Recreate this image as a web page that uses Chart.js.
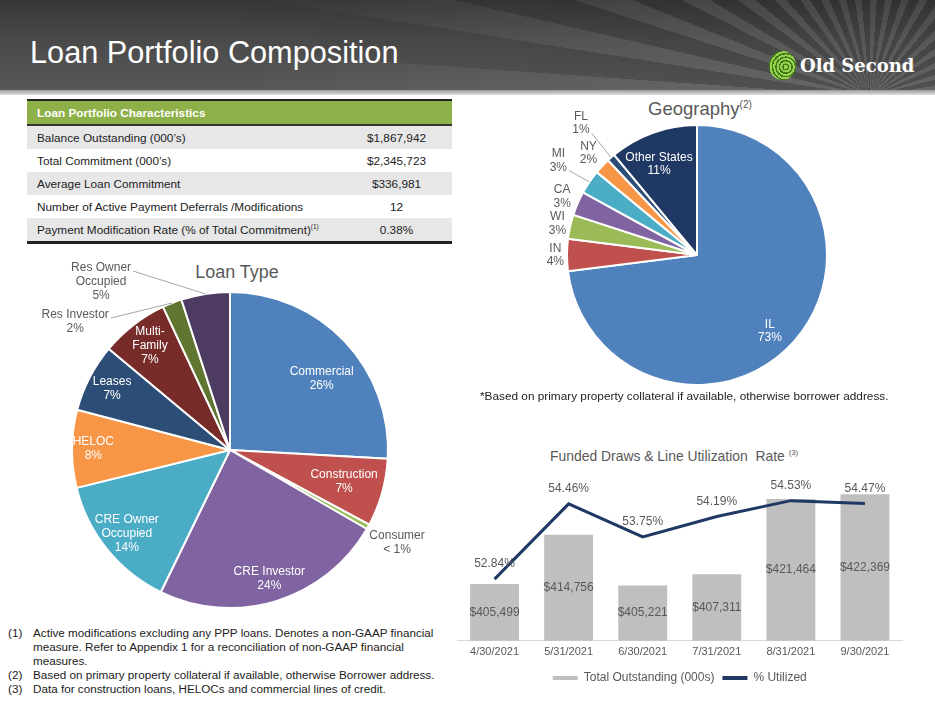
<!DOCTYPE html>
<html>
<head>
<meta charset="utf-8">
<script src="https://cdn.jsdelivr.net/npm/chart.js@4.4.0/dist/chart.umd.min.js"></script>
<style>
  body { margin: 0; width: 935px; height: 701px; overflow: hidden; background: #fff; position: relative;
         font-family: 'Liberation Sans', Arial, sans-serif; color: #222; }
  #header { position: absolute; left: 0; top: 0; width: 935px; height: 90px;
    background: linear-gradient(#363636 0%, #4a4a4a 45%, #585858 100%); }
  #rays { position: absolute; left: 0; top: 0; width: 935px; height: 90px;
    background: repeating-conic-gradient(from -90deg at 870px 96px, rgba(255,255,255,0.08) 0deg 4deg, rgba(0,0,0,0.08) 4deg 9deg);
    -webkit-mask-image: linear-gradient(to right, transparent 25%, #000 75%);
    mask-image: linear-gradient(to right, transparent 25%, #000 75%); }
  #header-strip { position: absolute; left: 0; top: 90px; width: 935px; height: 5px;
    background: linear-gradient(#9a9a9a, #e0e0e0); }
  #title { position: absolute; left: 30px; top: 37px; font-size: 30.7px; line-height: 31px; color: #fff; }
  #logo-icon { position: absolute; left: 769px; top: 51px; width: 27px; height: 29px; border-radius: 50%;
    background: repeating-radial-gradient(circle at 62% 55%, #9ad14a 0 2px, #3f7a1c 2px 3.5px); }
  #logo-text { position: absolute; left: 800px; top: 55px; font-family: 'DejaVu Serif', serif; font-weight: bold;
    font-size: 18px; line-height: 22px; color: #fff; }
  #tbl { position: absolute; left: 27px; top: 99px; width: 425px; border-collapse: collapse; font-size: 11.8px;
    border-top: 2px solid #222; border-bottom: 3px solid #222; }
  #tbl th { background: #8db048; color: #fff; text-align: left; padding: 0 0 0 10px; height: 23px;
    font-weight: bold; border-bottom: 2px solid #333; }
  #tbl td { height: 23px; padding: 0; }
  #tbl td:first-child { padding-left: 10px; }
  #tbl td:last-child { text-align: center; width: 111px; }
  #tbl tbody tr:nth-child(odd) td { background: #e7e7e7; }
  sup { font-size: 0.55em; }
  .ctitle { position: absolute; color: #595959; white-space: nowrap; transform: translateX(-50%); }
  canvas { position: absolute; }
  #notes { position: absolute; left: 8px; top: 626px; font-size: 11.7px; line-height: 14px; }
  #notes div { display: flex; }
  #notes span { width: 25px; flex: none; }
  #geo-note { position: absolute; left: 480px; top: 389px; font-size: 11.8px; line-height: 14px; }
</style>
</head>
<body>
<div id="header"></div>
<div id="rays"></div>
<div id="header-strip"></div>
<div id="title">Loan Portfolio Composition</div>
<div id="logo-icon"></div>
<div id="logo-text">Old Second</div>

<table id="tbl">
  <thead><tr><th colspan="2">Loan Portfolio Characteristics</th></tr></thead>
  <tbody id="tblBody"></tbody>
</table>

<div class="ctitle" style="left:237px; top:262px; font-size:18px;">Loan Type</div>
<div class="ctitle" style="left:700px; top:98px; font-size:18.5px;">Geography<sup>(2)</sup></div>
<div class="ctitle" style="left:674px; top:448px; font-size:13.9px;">Funded Draws &amp; Line Utilization&nbsp; Rate <sup>(3)</sup></div>

<canvas id="loanChart" width="460" height="370" style="left:0; top:250px;"></canvas>
<canvas id="geoChart" width="470" height="290" style="left:465px; top:100px;"></canvas>
<canvas id="drawChart" width="455" height="232" style="left:455px; top:462px;"></canvas>

<div id="geo-note">*Based on primary property collateral if available, otherwise borrower address.</div>

<div id="notes">
  <div><span>(1)</span><p style="margin:0">Active modifications excluding any PPP loans. Denotes a non-GAAP financial<br>measure. Refer to Appendix 1 for a reconciliation of non-GAAP financial<br>measures.</p></div>
  <div><span>(2)</span>Based on primary property collateral if available, otherwise Borrower address.</div>
  <div><span>(3)</span>Data for construction loans, HELOCs and commercial lines of credit.</div>
</div>

<script>
// Table rows
const tableItems = ['Balance Outstanding (000\u2019s)', 'Total Commitment (000\u2019s)', 'Average Loan Commitment',
  'Number of Active Payment Deferrals /Modifications', 'Payment Modification Rate (% of Total Commitment)'];
const tableValues = ['$1,867,942', '$2,345,723', '$336,981', '12', '0.38%'];

// Loan type pie
const loanTypes = ['Commercial', 'Construction', 'Consumer', 'CRE Investor', 'CRE Owner\nOccupied', 'HELOC',
  'Leases', 'Multi-\nFamily', 'Res Investor', 'Res Owner\nOccupied'];
const loanShares = [26, 7, 0.5, 24, 14, 8, 7, 7, 2, 5];
const loanShareLabels = ['26%', '7%', '< 1%', '24%', '14%', '8%', '7%', '7%', '2%', '5%'];

// Geography pie
const states = ['IL', 'IN', 'WI', 'CA', 'MI', 'NY', 'FL', 'Other States'];
const stateShares = [73, 4, 3, 3, 3, 2, 1, 11];

// Funded draws
const months = ['4/30/2021', '5/31/2021', '6/30/2021', '7/31/2021', '8/31/2021', '9/30/2021'];
const totalOutstanding = [405499, 414756, 405221, 407311, 421464, 422369];
const pctUtilized = [52.84, 54.46, 53.75, 54.19, 54.53, 54.47];

// Fill the table
const tblBody = document.getElementById('tblBody');
tableItems.forEach((item, i) => {
  const row = document.createElement('tr');
  const nameCell = document.createElement('td');
  const valueCell = document.createElement('td');
  nameCell.textContent = item;
  if (i === tableItems.length - 1) {
    const s = document.createElement('sup');
    s.textContent = '(1)';
    nameCell.appendChild(s);
  }
  valueCell.textContent = tableValues[i];
  row.appendChild(nameCell);
  row.appendChild(valueCell);
  tblBody.appendChild(row);
});

Chart.defaults.font.family = '"Liberation Sans", Arial, sans-serif';
Chart.defaults.color = '#595959';

const WHITE = '#ffffff', GRAY = '#595959';

// Builds a plugin that writes the text for each slice
// (rad = distance from centre in radii, at = fixed offset in radii)
function makeSliceLabels(lines, styles, lineHeight) {
  return {
    id: 'sliceLabels',
    afterDatasetsDraw(chart) {
      const ctx = chart.ctx;
      const meta = chart.getDatasetMeta(0);
      ctx.save();
      ctx.font = '12px "Liberation Sans", Arial, sans-serif';
      ctx.textAlign = 'center';
      ctx.textBaseline = 'middle';
      meta.data.forEach((arc, i) => {
        const st = styles[i];
        const cx = arc.x, cy = arc.y, R = arc.outerRadius;
        const mid = (arc.startAngle + arc.endAngle) / 2;
        let lx, ly;
        if (st.at) {
          lx = cx + st.at[0] * R;
          ly = cy + st.at[1] * R;
        } else {
          lx = cx + Math.cos(mid) * st.rad * R;
          ly = cy + Math.sin(mid) * st.rad * R;
        }
        const txt = lines[i];
        const top = ly - (txt.length - 1) * lineHeight / 2;
        if (st.leader) {
          const k = st.leader === 'first' ? 0 : txt.length - 1;
          const w = ctx.measureText(txt[k]).width;
          ctx.strokeStyle = '#a6a6a6';
          ctx.lineWidth = 1;
          ctx.beginPath();
          ctx.moveTo(lx + w / 2 + 2, top + k * lineHeight + 3);
          ctx.lineTo(cx + Math.cos(mid) * R, cy + Math.sin(mid) * R);
          ctx.stroke();
        }
        ctx.fillStyle = st.color;
        txt.forEach((t, j) => ctx.fillText(t, lx, top + j * lineHeight));
      });
      ctx.restore();
    }
  };
}

const loanLabelStyles = [
  { at: [0.58, -0.454], color: WHITE }, { rad: 0.75, color: WHITE }, { rad: 1.21, color: GRAY },
  { rad: 0.85, color: WHITE }, { rad: 0.84, color: WHITE }, { rad: 0.865, color: WHITE },
  { rad: 0.84, color: WHITE }, { rad: 0.83, color: WHITE },
  { at: [-0.98, -0.81], color: GRAY, leader: 'first' },
  { at: [-0.816, -1.063], color: GRAY, leader: 'first' }
];

const geoLabelStyles = [
  { at: [0.56, 0.585], color: WHITE }, { rad: 1.09, color: GRAY }, { rad: 1.10, color: GRAY },
  { rad: 1.13, color: GRAY }, { rad: 1.29, color: GRAY, leader: 'last' }, { rad: 1.145, color: GRAY },
  { rad: 1.35, color: GRAY, leader: 'last' }, { at: [-0.292, -0.70], color: WHITE }
];

new Chart(document.getElementById('loanChart'), {
  type: 'pie',
  data: {
    labels: loanTypes.map(t => t.replace('\n', ' ')),
    datasets: [{
      data: loanShares,
      backgroundColor: ['#4f81bd', '#c0504d', '#9bbb59', '#8064a2', '#4bacc6', '#f79646',
                        '#2c4d75', '#772c2a', '#5f7530', '#4d3b62'],
      borderColor: '#fff',
      borderWidth: 2
    }]
  },
  options: {
    responsive: false,
    animation: false,
    layout: { padding: { left: 71, top: 41, right: 71, bottom: 11 } },
    plugins: { legend: { display: false }, tooltip: { enabled: false } }
  },
  plugins: [makeSliceLabels(loanTypes.map((t, i) => t.split('\n').concat(loanShareLabels[i])), loanLabelStyles, 14)]
});

new Chart(document.getElementById('geoChart'), {
  type: 'pie',
  data: {
    labels: states,
    datasets: [{
      data: stateShares,
      backgroundColor: ['#4f81bd', '#c0504d', '#9bbb59', '#8064a2', '#4bacc6', '#f79646', '#2c4d75', '#1f3864'],
      borderColor: '#fff',
      borderWidth: 2
    }]
  },
  options: {
    responsive: false,
    animation: false,
    layout: { padding: { left: 101, top: 24, right: 107, bottom: 4 } },
    plugins: { legend: { display: false }, tooltip: { enabled: false } }
  },
  plugins: [makeSliceLabels(states.map((s, i) => [s, stateShares[i] + '%']), geoLabelStyles, 13.5)]
});

// Value labels on bars and line points
const valueLabels = {
  id: 'valueLabels',
  afterDatasetsDraw(chart) {
    const ctx = chart.ctx;
    const bottom = chart.chartArea.bottom;
    ctx.save();
    ctx.font = '12px "Liberation Sans", Arial, sans-serif';
    ctx.fillStyle = GRAY;
    ctx.textAlign = 'center';
    ctx.textBaseline = 'middle';
    chart.getDatasetMeta(0).data.forEach((bar, i) => {
      ctx.fillText('$' + totalOutstanding[i].toLocaleString('en-US'), bar.x, (bar.y + bottom) / 2);
    });
    chart.getDatasetMeta(1).data.forEach((pt, i) => {
      ctx.fillText(pctUtilized[i].toFixed(2) + '%', pt.x, pt.y - 15);
    });
    ctx.restore();
  }
};

new Chart(document.getElementById('drawChart'), {
  type: 'bar',
  data: {
    labels: months,
    datasets: [
      {
        type: 'bar',
        label: 'Total Outstanding (000s)',
        data: totalOutstanding,
        backgroundColor: '#bfbfbf',
        yAxisID: 'y',
        categoryPercentage: 1,
        barPercentage: 0.66,
        order: 1
      },
      {
        type: 'line',
        label: '% Utilized',
        data: pctUtilized,
        borderColor: '#1f3864',
        backgroundColor: '#1f3864',
        borderWidth: 3,
        pointRadius: 0,
        yAxisID: 'y1',
        order: 0
      }
    ]
  },
  options: {
    responsive: false,
    animation: false,
    layout: { padding: { left: 2.5, top: 18, right: 8, bottom: 0 } },
    scales: {
      x: {
        grid: { display: false, drawTicks: false },
        border: { display: true, color: '#d9d9d9' },
        ticks: { padding: 5, color: GRAY, font: { size: 11 } }
      },
      y: { display: false, min: 394800, max: 425060 },
      y1: { display: false, min: 51.51, max: 54.975 }
    },
    plugins: {
      tooltip: { enabled: false },
      legend: {
        position: 'bottom',
        labels: {
          boxWidth: 25,
          boxHeight: 4,
          padding: 8,
          color: GRAY,
          font: { size: 12 },
          sort: (a, b) => a.datasetIndex - b.datasetIndex,
          generateLabels(chart) {
            return Chart.defaults.plugins.legend.labels.generateLabels(chart).map(l => ({ ...l, lineWidth: 0 }));
          }
        }
      }
    }
  },
  plugins: [valueLabels]
});
</script>
</body>
</html>
